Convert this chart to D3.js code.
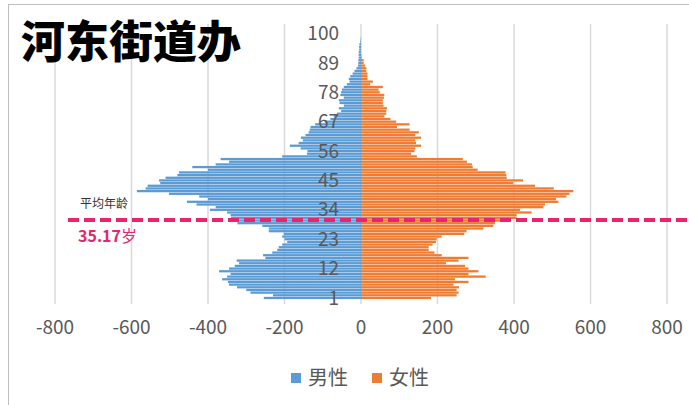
<!DOCTYPE html>
<html>
<head>
<meta charset="utf-8">
<script src="https://cdn.jsdelivr.net/npm/d3@7"></script>
<style>
  body { margin: 0; background: #fff; }
  text { font-family: "Noto Sans CJK SC", sans-serif; }
</style>
</head>
<body>
<svg id="chart"></svg>
<script>
// ages 1..100, bottom to top
const ages = d3.range(1, 101)
// 男性, people per age, starting at age 1
const male = [
  254, 230, 289, 300, 324, 345, 348, 363, 350, 341,
  371, 345, 330, 319, 325, 250, 256, 232, 219, 215,
  206, 193, 200, 206, 202, 241, 241, 258, 323, 330,
  340, 341, 350, 395, 380, 430, 455, 400, 423, 502,
  586, 563, 558, 525, 528, 511, 480, 476, 400, 441,
  380, 345, 367, 206, 141, 140, 158, 186, 163, 152,
  157, 145, 137, 134, 132, 120, 95, 80, 71, 63,
  52, 58, 45, 56, 58, 45, 54, 52, 50, 45,
  37, 30, 32, 28, 22, 17, 12, 8, 7, 7,
  6, 6, 6, 5, 5, 4, 2, 1, 0, 0
]
// 女性
const female = [
  183, 250, 255, 250, 256, 242, 281, 246, 326, 281,
  307, 281, 272, 222, 255, 281, 211, 192, 177, 177,
  187, 196, 198, 211, 270, 276, 320, 346, 350, 365,
  407, 407, 446, 416, 477, 481, 516, 510, 537, 545,
  555, 504, 455, 398, 424, 381, 380, 378, 305, 292,
  290, 277, 266, 146, 131, 140, 142, 157, 144, 142,
  157, 142, 151, 127, 94, 127, 92, 77, 61, 66,
  66, 68, 59, 57, 57, 60, 61, 49, 46, 57,
  24, 31, 17, 17, 17, 14, 14, 11, 7, 7,
  2, 1, 0, 0, 0, 0, 0, 0, 0, 0
]
const xTicks = [-800, -600, -400, -200, 0, 200, 400, 600, 800]
const ageLabels = [1, 12, 23, 34, 45, 56, 67, 78, 89, 100]
const legendItems = ["男性", "女性"]
const colors = {male: "#5B9BD5", female: "#ED7D31"}
const title = "河东街道办"
const avgAge = "35.17"
const avgLineAt = 30.2   // where the dashed marker sits on the age axis

const W = 689, H = 405
const plot = {left: 55, right: 667, top: 24, bottom: 300}

const svg = d3.select("#chart")
  .attr("width", W)
  .attr("height", H)

// chart border
svg.append("rect")
  .attr("x", 8.5).attr("y", 4.5)
  .attr("width", W + 20).attr("height", H + 20)
  .attr("fill", "none")
  .attr("stroke", "#bfbfbf")

const xScale = d3.scaleLinear()
  .domain([-800, 800])
  .range([plot.left, plot.right])

const yScale = d3.scaleBand()
  .domain(ages)
  .range([plot.bottom - 0.5, 32])
  .padding(0.15)

// gridlines
svg.append("g")
  .selectAll("line")
  .data(xTicks)
  .enter()
  .append("line")
  .attr("x1", d => xScale(d)).attr("x2", d => xScale(d))
  .attr("y1", plot.top).attr("y2", plot.bottom + 4)
  .attr("stroke", "#d9d9d9")
  .attr("stroke-width", 1.5)

// x tick labels
svg.append("g")
  .selectAll("text")
  .data(xTicks)
  .enter()
  .append("text")
  .attr("x", d => xScale(d))
  .attr("y", 334)
  .attr("text-anchor", "middle")
  .attr("font-size", 19)
  .attr("fill", "#595959")
  .text(d => d)

// bars
svg.append("g")
  .selectAll("rect")
  .data(ages)
  .enter()
  .append("rect")
  .attr("x", (d, i) => xScale(-male[i]))
  .attr("y", d => yScale(d))
  .attr("width", (d, i) => xScale(0) - xScale(-male[i]))
  .attr("height", yScale.bandwidth())
  .attr("fill", colors.male)

svg.append("g")
  .selectAll("rect")
  .data(ages)
  .enter()
  .append("rect")
  .attr("x", xScale(0))
  .attr("y", d => yScale(d))
  .attr("width", (d, i) => xScale(female[i]) - xScale(0))
  .attr("height", yScale.bandwidth())
  .attr("fill", colors.female)

// age labels, sitting left of the zero line
svg.append("g")
  .selectAll("text")
  .data(ageLabels)
  .enter()
  .append("text")
  .attr("x", xScale(0) - 22)
  .attr("y", d => yScale(d) + yScale.bandwidth() / 2)
  .attr("dy", "0.35em")
  .attr("text-anchor", "end")
  .attr("font-size", 19)
  .attr("fill", "#595959")
  .text(d => d)

// title
svg.append("text")
  .attr("x", 21)
  .attr("y", 58)
  .attr("font-size", 44)
  .attr("font-weight", 900)
  .attr("fill", "#000")
  .text(title)

// average age marker
const avgY = yScale(Math.floor(avgLineAt)) + yScale.bandwidth() / 2 - (avgLineAt % 1) * yScale.step()
svg.append("line")
  .attr("x1", 68).attr("x2", W + 10)
  .attr("y1", avgY).attr("y2", avgY)
  .attr("stroke", "#E8246F")
  .attr("stroke-width", 4)
  .attr("stroke-dasharray", "11,5")

svg.append("text")
  .attr("x", 80)
  .attr("y", avgY - 12)
  .attr("font-size", 12)
  .attr("fill", "#333")
  .text("平均年龄")

const avgText = svg.append("text")
  .attr("x", 78)
  .attr("y", avgY + 22)
  .attr("font-size", 16)
  .attr("fill", "#E8246F")
avgText.append("tspan").attr("font-weight", 700).text(avgAge)
avgText.append("tspan").text("岁")

// legend
const legend = svg.append("g")
  .attr("transform", "translate(291, 378)")
const legendX = [0, 81]
legendItems.forEach((name, i) => {
  const g = legend.append("g").attr("transform", `translate(${legendX[i]}, 0)`)
  g.append("rect")
    .attr("x", 0).attr("y", -5)
    .attr("width", 10).attr("height", 10)
    .attr("fill", i === 0 ? colors.male : colors.female)
  g.append("text")
    .attr("x", 17)
    .attr("dy", "0.35em")
    .attr("font-size", 20)
    .attr("fill", "#595959")
    .text(name)
})
</script>
</body>
</html>
